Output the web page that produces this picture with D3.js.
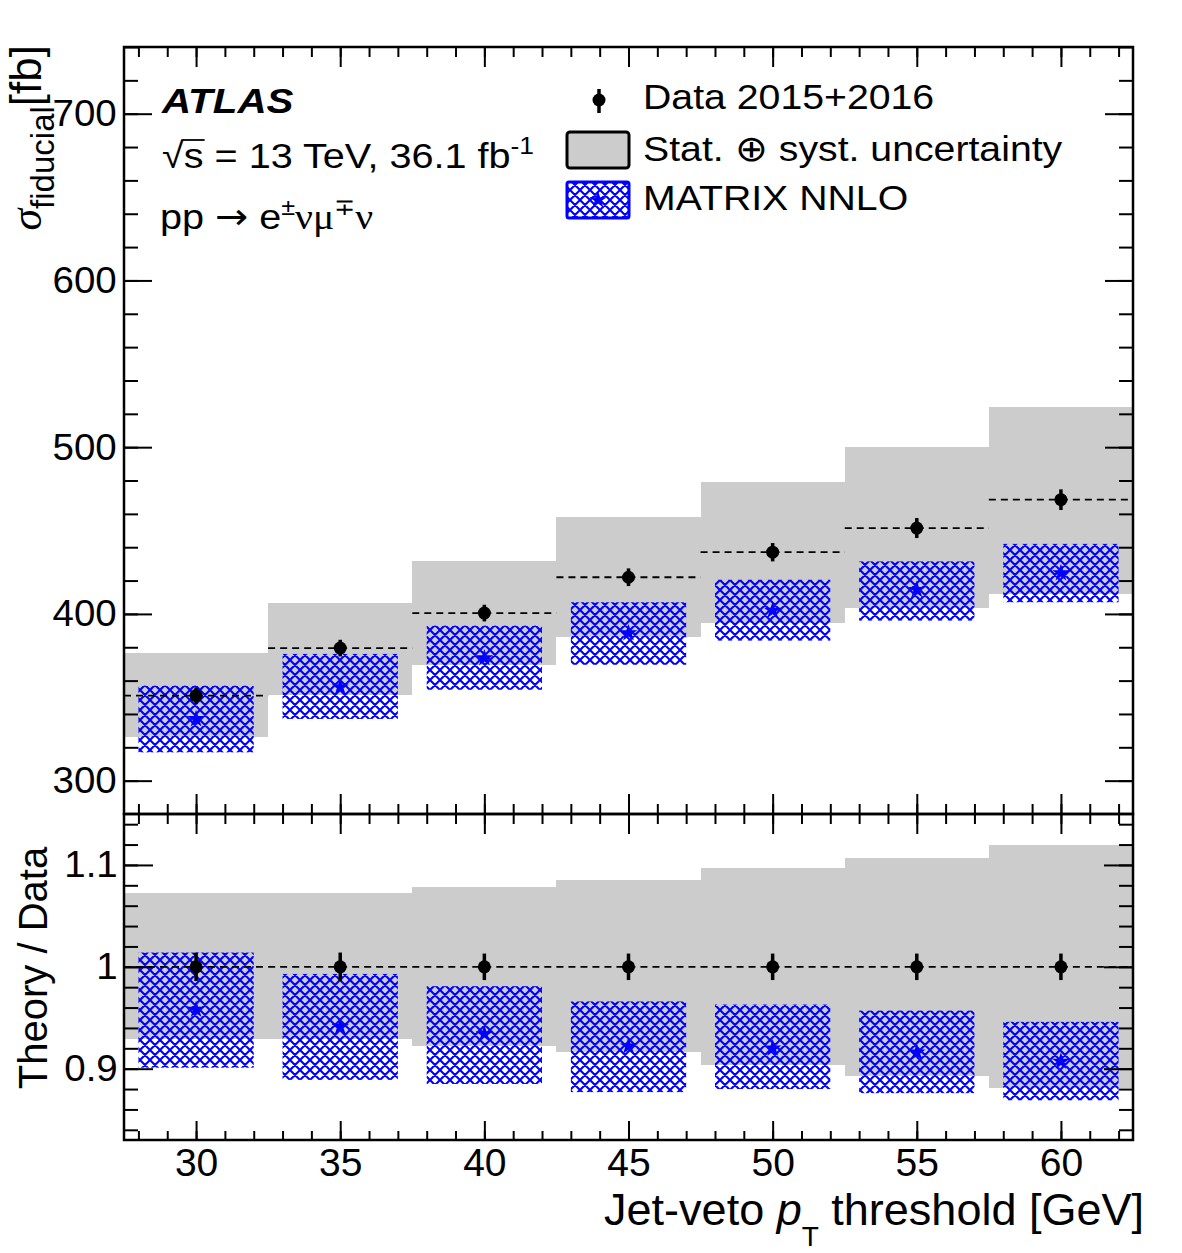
<!DOCTYPE html>
<html lang="en">
<head>
<meta charset="utf-8">
<title>Fiducial cross-section vs jet-veto threshold</title>
<script src="https://cdnjs.cloudflare.com/ajax/libs/d3/7.8.5/d3.min.js"></script>
<style>
  body { margin: 0; background: #fff; }
  svg { display: block; font-family: "Liberation Sans", Arial, sans-serif; }
</style>
</head>
<body>
<svg width="1182" height="1253"></svg>
<script>
// jet-veto pT thresholds [GeV]
var thresholds = [30, 35, 40, 45, 50, 55, 60];

// measured fiducial cross-section [fb]
var dataXsec = [351, 379.5, 400.5, 422, 437, 451.5, 468.5];
var dataStat = [5, 5, 5, 5.3, 5.5, 6, 6.2];
var uncUp    = [376.5, 406.5, 431.5, 458, 479, 500, 524];
var uncDown  = [326, 351.5, 369.5, 386, 394.5, 403.5, 412];

// MATRIX NNLO prediction [fb]
var nnloXsec = [337, 356, 373.5, 388.5, 402, 414.5, 424.5];
var nnloUp   = [357, 376, 393, 407, 420.5, 431.5, 442];
var nnloDown = [317, 337, 354.5, 369.5, 384, 396, 407];

// lower panel: theory / data
var ratioData     = [1, 1, 1, 1, 1, 1, 1];
var ratioStat     = [0.014, 0.014, 0.013, 0.013, 0.013, 0.013, 0.013];
var ratioUncUp    = [1.072, 1.072, 1.078, 1.085, 1.097, 1.107, 1.12];
var ratioUncDown  = [0.929, 0.929, 0.922, 0.916, 0.904, 0.893, 0.881];
var ratioNnlo     = [0.958, 0.941, 0.934, 0.922, 0.920, 0.916, 0.907];
var ratioNnloUp   = [1.014, 0.993, 0.981, 0.966, 0.963, 0.957, 0.946];
var ratioNnloDown = [0.901, 0.889, 0.885, 0.877, 0.880, 0.876, 0.869];

// axis ticks
var topMajor = [300, 400, 500, 600, 700];
var topMinor = d3.range(300, 741, 20);
var ratioMajor = [0.9, 1, 1.1];
var ratioMinor = d3.range(0.84, 1.15, 0.02);
var xMinor = d3.range(28, 63, 1);

var svg = d3.select("svg");
var padL = 124, padR = 1133, padT = 47, split = 814, padB = 1140;
var blue = "#0000ff", gray = "#cccccc";
var halfBin = 2.5, halfBox = 2;

var x = d3.scaleLinear().domain([27.5, 62.5]).range([padL, padR]);
var yTop = d3.scaleLinear().domain([280, 740]).range([split, padT]);
var yRat = d3.scaleLinear().domain([0.83, 1.15]).range([padB, split]);

// blue cross hatch
var pat = svg.append("defs").append("pattern")
    .attr("id", "hatch")
    .attr("patternUnits", "userSpaceOnUse")
    .attr("width", 10).attr("height", 10);
pat.append("path")
    .attr("d", "M0,0L10,10M-1,9L1,11M9,-1L11,1M0,10L10,0M-1,1L1,-1M9,11L11,9")
    .attr("stroke", blue).attr("stroke-width", 2.1).attr("fill", "none");

var star = d3.symbol().type(d3.symbolStar).size(95);

function drawPanel(y, mid, err, up, down, pred, pUp, pDown) {
    var g = svg.append("g");
    var idx = d3.range(thresholds.length);

    g.selectAll(".band").data(idx).enter().append("rect")
        .attr("x", function(i) { return x(thresholds[i] - halfBin); })
        .attr("width", function(i) { return x(thresholds[i] + halfBin) - x(thresholds[i] - halfBin); })
        .attr("y", function(i) { return y(up[i]); })
        .attr("height", function(i) { return y(down[i]) - y(up[i]); })
        .attr("fill", gray)
        .attr("shape-rendering", "crispEdges");

    g.selectAll(".theo").data(idx).enter().append("rect")
        .attr("x", function(i) { return x(thresholds[i] - halfBox); })
        .attr("width", function(i) { return x(thresholds[i] + halfBox) - x(thresholds[i] - halfBox); })
        .attr("y", function(i) { return y(pUp[i]); })
        .attr("height", function(i) { return y(pDown[i]) - y(pUp[i]); })
        .attr("fill", "url(#hatch)");

    g.selectAll(".star").data(idx).enter().append("path")
        .attr("d", star)
        .attr("transform", function(i) { return "translate(" + x(thresholds[i]) + "," + y(pred[i]) + ")"; })
        .attr("fill", blue);

    g.selectAll(".dash").data(idx).enter().append("line")
        .attr("x1", function(i) { return x(thresholds[i] - halfBin); })
        .attr("x2", function(i) { return x(thresholds[i] + halfBin); })
        .attr("y1", function(i) { return y(mid[i]); })
        .attr("y2", function(i) { return y(mid[i]); })
        .attr("stroke", "#000").attr("stroke-width", 1.8)
        .attr("stroke-dasharray", "7,5");

    g.selectAll(".err").data(idx).enter().append("line")
        .attr("x1", function(i) { return x(thresholds[i]); })
        .attr("x2", function(i) { return x(thresholds[i]); })
        .attr("y1", function(i) { return y(mid[i] + err[i]); })
        .attr("y2", function(i) { return y(mid[i] - err[i]); })
        .attr("stroke", "#000").attr("stroke-width", 3.5);

    g.selectAll(".pt").data(idx).enter().append("circle")
        .attr("cx", function(i) { return x(thresholds[i]); })
        .attr("cy", function(i) { return y(mid[i]); })
        .attr("r", 6.5)
        .attr("fill", "#000");
}

drawPanel(yTop, dataXsec, dataStat, uncUp, uncDown, nnloXsec, nnloUp, nnloDown);
drawPanel(yRat, ratioData, ratioStat, ratioUncUp, ratioUncDown, ratioNnlo, ratioNnloUp, ratioNnloDown);

// axes ----------------------------------------------------------
function styleAxis(g) {
    g.select(".domain").remove();
    g.selectAll(".tick line").attr("stroke", "#000").attr("stroke-width", 2);
    g.attr("font-family", "Liberation Sans, Arial, sans-serif");
}

function addAxis(axis, tx, ty) {
    return svg.append("g")
        .attr("transform", "translate(" + tx + "," + ty + ")")
        .call(axis)
        .call(styleAxis);
}

// x ticks on the four horizontal borders
addAxis(d3.axisTop(x).tickValues(xMinor).tickSize(-10).tickFormat(""), 0, padT);
addAxis(d3.axisTop(x).tickValues(thresholds).tickSize(-20).tickFormat(""), 0, padT);
addAxis(d3.axisBottom(x).tickValues(xMinor).tickSize(-10).tickFormat(""), 0, split);
addAxis(d3.axisBottom(x).tickValues(thresholds).tickSize(-20).tickFormat(""), 0, split);
addAxis(d3.axisTop(x).tickValues(xMinor).tickSize(-10).tickFormat(""), 0, split);
addAxis(d3.axisTop(x).tickValues(thresholds).tickSize(-20).tickFormat(""), 0, split);
addAxis(d3.axisBottom(x).tickValues(xMinor).tickSize(-9).tickFormat(""), 0, padB);
var xLab = addAxis(d3.axisBottom(x).tickValues(thresholds).tickSize(-19).tickPadding(8), 0, padB);
xLab.attr("font-size", 39);

// y ticks
addAxis(d3.axisLeft(yTop).tickValues(topMinor).tickSize(-14).tickFormat(""), padL, 0);
addAxis(d3.axisRight(yTop).tickValues(topMinor).tickSize(-14).tickFormat(""), padR, 0);
addAxis(d3.axisRight(yTop).tickValues(topMajor).tickSize(-28).tickFormat(""), padR, 0);
var yLab = addAxis(d3.axisLeft(yTop).tickValues(topMajor).tickSize(-28).tickPadding(7), padL, 0);

addAxis(d3.axisLeft(yRat).tickValues(ratioMinor).tickSize(-14).tickFormat(""), padL, 0);
addAxis(d3.axisRight(yRat).tickValues(ratioMinor).tickSize(-14).tickFormat(""), padR, 0);
addAxis(d3.axisRight(yRat).tickValues(ratioMajor).tickSize(-29).tickFormat(""), padR, 0);
var rLab = addAxis(d3.axisLeft(yRat).tickValues(ratioMajor).tickSize(-29).tickPadding(6)
    .tickFormat(function(d) { return d === 1 ? "1" : d3.format(".1f")(d); }), padL, 0);

[yLab, rLab].forEach(function(g) {
    g.attr("font-size", 37);
    g.selectAll(".tick text").attr("transform", "scale(1.04,1)");
});

// frames
svg.append("rect").attr("x", padL).attr("y", padT)
    .attr("width", padR - padL).attr("height", split - padT)
    .attr("fill", "none").attr("stroke", "#000").attr("stroke-width", 2.5);
svg.append("rect").attr("x", padL).attr("y", split)
    .attr("width", padR - padL).attr("height", padB - split)
    .attr("fill", "none").attr("stroke", "#000").attr("stroke-width", 2.5);

// axis titles ---------------------------------------------------
var yTitle = svg.append("text")
    .attr("transform", "translate(41,45) rotate(-90)")
    .attr("text-anchor", "end")
    .attr("font-size", 44);
yTitle.append("tspan").attr("font-family", "Liberation Serif, serif").attr("font-style", "italic")
    .text("σ");
yTitle.append("tspan").attr("font-size", 33).attr("dy", 13).text("fiducial");
yTitle.append("tspan").attr("dy", -13).text("[fb]");

svg.append("text")
    .attr("transform", "translate(47,968) rotate(-90)")
    .attr("text-anchor", "middle")
    .attr("font-size", 40)
    .text("Theory / Data");

var xTitle = svg.append("text")
    .attr("x", 1144).attr("y", 1225)
    .attr("text-anchor", "end")
    .attr("font-size", 45);
xTitle.append("tspan").text("Jet-veto ");
xTitle.append("tspan").attr("font-style", "italic").text("p");
xTitle.append("tspan").attr("font-size", 28).attr("dy", 21).text("T");
xTitle.append("tspan").attr("dy", -21).text(" threshold [GeV]");

// ATLAS label ---------------------------------------------------
svg.append("text")
    .attr("transform", "translate(162,113) scale(1.12,1)")
    .attr("font-size", 36)
    .attr("font-weight", "bold")
    .attr("font-style", "italic")
    .text("ATLAS");

var lab2 = svg.append("g").attr("transform", "translate(162,168) scale(1.1,1)");
var t2 = lab2.append("text").attr("font-size", 36);
t2.append("tspan").text("√s = 13 TeV, 36.1 fb");
t2.append("tspan").attr("font-size", 24).attr("dy", -14).text("-1");
var e0 = t2.node().getExtentOfChar(0), e1 = t2.node().getExtentOfChar(1);
lab2.append("line")
    .attr("x1", e0.x + e0.width - 1).attr("x2", e1.x + e1.width + 1)
    .attr("y1", -28).attr("y2", -28)
    .attr("stroke", "#000").attr("stroke-width", 1.8);

var t3 = svg.append("text")
    .attr("transform", "translate(160,229) scale(1.1,1)")
    .attr("font-size", 36);
t3.append("tspan").text("pp ");
t3.append("tspan").attr("font-family", "DejaVu Sans, sans-serif").text("→");
t3.append("tspan").text(" e");
t3.append("tspan").attr("font-size", 23).attr("dy", -14).text("±");
t3.append("tspan").attr("dy", 14).attr("font-family", "Liberation Serif, serif").text("νμ");
t3.append("tspan").attr("font-size", 23).attr("dy", -14).text("∓");
t3.append("tspan").attr("dy", 14).attr("font-family", "Liberation Serif, serif").text("ν");

// legend --------------------------------------------------------
var leg = svg.append("g");
leg.append("line").attr("x1", 599).attr("x2", 599).attr("y1", 89).attr("y2", 113)
    .attr("stroke", "#000").attr("stroke-width", 3.5);
leg.append("circle").attr("cx", 599).attr("cy", 100).attr("r", 6.5).attr("fill", "#000");
leg.append("rect").attr("x", 567).attr("y", 132).attr("width", 62).attr("height", 36).attr("rx", 3)
    .attr("fill", gray).attr("stroke", "#000").attr("stroke-width", 3);
leg.append("rect").attr("x", 567).attr("y", 182).attr("width", 62).attr("height", 36).attr("rx", 2)
    .attr("fill", "url(#hatch)").attr("stroke", blue).attr("stroke-width", 3);
leg.append("path").attr("d", star).attr("transform", "translate(598,200)").attr("fill", blue);

var legLabels = ["Data 2015+2016", "Stat. ⊕ syst. uncertainty", "MATRIX NNLO"];
var legBase = [109, 161, 210];
legLabels.forEach(function(s, i) {
    leg.append("text")
        .attr("transform", "translate(643," + legBase[i] + ") scale(1.09,1)")
        .attr("font-size", 36)
        .text(s);
});
</script>
</body>
</html>
